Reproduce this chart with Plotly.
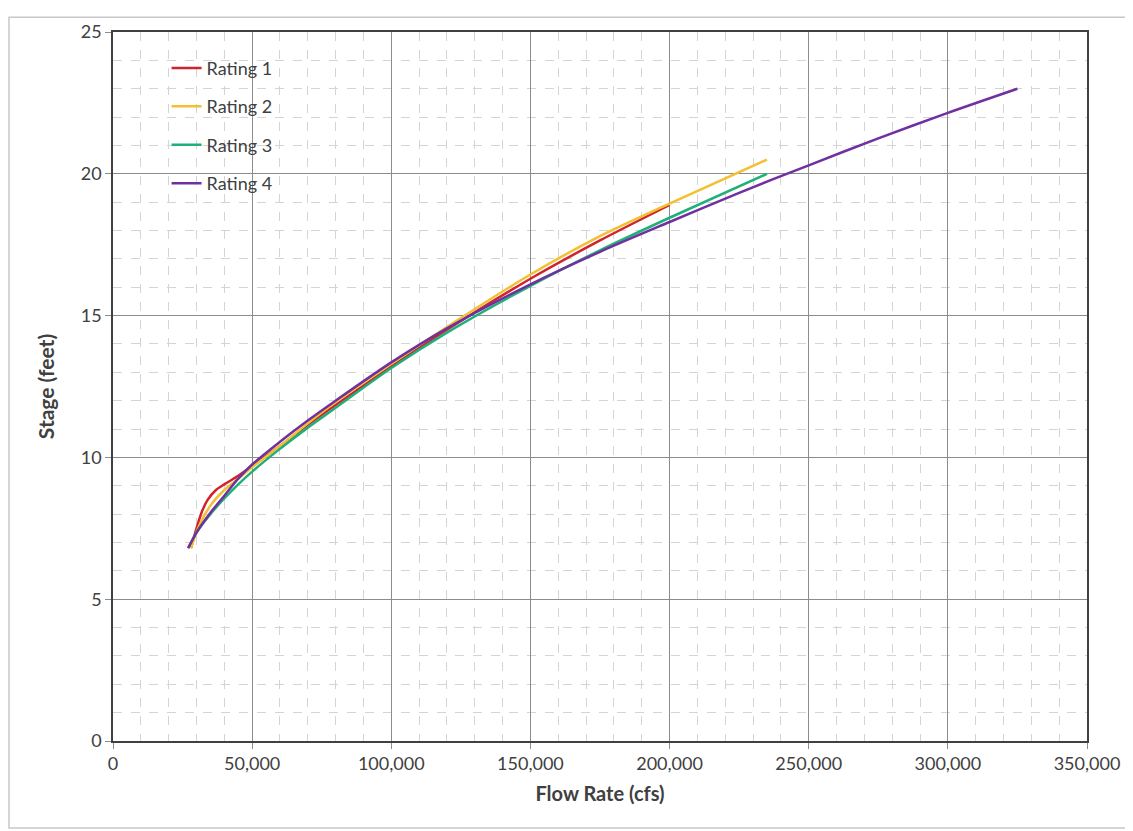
import plotly.graph_objects as go

# ---- data ----
r1_flow = [28000, 30000, 32000, 34000, 37000, 40000, 45000, 50000, 60000, 70000, 80000, 100000, 120000, 150000, 175000, 200000]
r1_stage = [6.8, 7.5, 8.1, 8.5, 8.85, 9.05, 9.35, 9.7, 10.4, 11.15, 11.85, 13.2, 14.5, 16.3, 17.65, 18.9]

r2_flow = [28000, 31000, 35000, 40000, 45000, 50000, 60000, 70000, 80000, 100000, 120000, 150000, 175000, 200000, 235000]
r2_stage = [6.8, 7.6, 8.3, 8.85, 9.25, 9.65, 10.4, 11.2, 11.95, 13.3, 14.6, 16.45, 17.8, 18.95, 20.5]

r3_flow = [27000, 30000, 35000, 40000, 45000, 50000, 60000, 70000, 80000, 100000, 120000, 150000, 175000, 200000, 235000]
r3_stage = [6.8, 7.35, 8.0, 8.55, 9.05, 9.5, 10.3, 11.05, 11.75, 13.15, 14.4, 16.05, 17.3, 18.45, 20.0]

r4_flow = [27000, 30000, 35000, 40000, 45000, 50000, 60000, 70000, 80000, 100000, 120000, 150000, 175000, 200000, 225000, 250000, 275000, 300000, 325000]
r4_stage = [6.8, 7.35, 8.05, 8.65, 9.25, 9.75, 10.55, 11.3, 12.0, 13.35, 14.55, 16.1, 17.25, 18.3, 19.33, 20.3, 21.25, 22.15, 23.0]

series_names = ["Rating 1", "Rating 2", "Rating 3", "Rating 4"]
series_colors = ["#d0232b", "#f2c030", "#1fb07a", "#7030a0"]

x_ticks = [0, 50000, 100000, 150000, 200000, 250000, 300000, 350000]
y_ticks = [0, 5, 10, 15, 20, 25]

flows = [r1_flow, r2_flow, r3_flow, r4_flow]
stages = [r1_stage, r2_stage, r3_stage, r4_stage]

fig = go.Figure()
for name, col, fx, sy in zip(series_names, series_colors, flows, stages):
    fig.add_trace(go.Scatter(
        x=fx, y=sy, mode="lines", name=name,
        line=dict(color=col, width=2.5, shape="spline", smoothing=0.8),
        legendgroup=name,
    ))

font_family = "Lato, 'Open Sans', sans-serif"

# page has an 8px body offset; compensate so the plot area lands at 113..1087 x 24..741
W, H = 1125, 823
ml, mt, mr, mb = 105, 16, 46, 90
pw = W - ml - mr
ph = H - mt - mb

fig.update_layout(
    width=W, height=H,
    margin=dict(l=ml, r=mr, t=mt, b=mb),
    paper_bgcolor="white", plot_bgcolor="white",
    font=dict(family=font_family, size=17, color="#404040"),
    showlegend=True,
    legend=dict(
        x=0.055, y=0.975, xanchor="left", yanchor="top",
        bgcolor="rgba(0,0,0,0)", borderwidth=0,
        font=dict(size=18, color="#404040", family=font_family),
        tracegroupgap=12, itemwidth=30,
    ),
    xaxis=dict(
        range=[0, 350000], tickvals=x_ticks,
        ticktext=[f"{v:,}" for v in x_ticks],
        showgrid=True, gridcolor="#8c8c8c", gridwidth=1,
        minor=dict(dtick=10000, showgrid=True, gridcolor="#d4d4d4", griddash="dash", gridwidth=1),
        showline=True, linecolor="#404040", linewidth=1.5, mirror=True,
        ticks="outside", ticklen=6, tickcolor="#8c8c8c",
        zeroline=False,
        title=dict(text="<b>Flow Rate (cfs)</b>", font=dict(size=20, color="#404040"), standoff=14),
        tickfont=dict(size=18),
    ),
    yaxis=dict(
        range=[0, 25], tickvals=y_ticks,
        showgrid=True, gridcolor="#8c8c8c", gridwidth=1,
        minor=dict(dtick=1, showgrid=True, gridcolor="#d4d4d4", griddash="dash", gridwidth=1),
        showline=True, linecolor="#404040", linewidth=1.5, mirror=True,
        ticks="outside", ticklen=6, tickcolor="#8c8c8c",
        zeroline=False,
        title=dict(text="<b>Stage (feet)</b>", font=dict(size=21, color="#404040"), standoff=20),
        tickfont=dict(size=18),
    ),
)

# outer chart border
fig.add_shape(type="rect", xref="paper", yref="paper",
              x0=(1 - ml) / pw, x1=(W - 3 - ml) / pw,
              y0=-(mb - 2) / ph, y1=(ph + mt - 1) / ph,
              line=dict(color="#c8c8c8", width=1.5), fillcolor="rgba(0,0,0,0)", layer="below")

fig.write_html("out.html")
